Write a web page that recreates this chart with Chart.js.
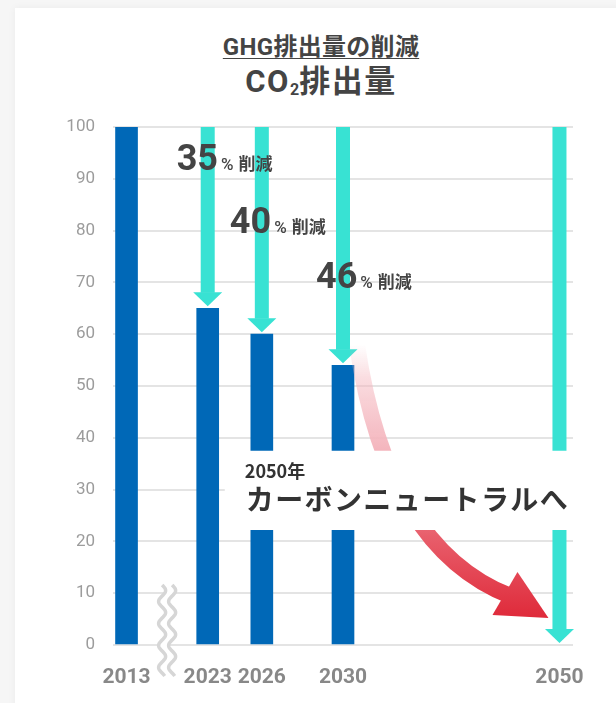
<!DOCTYPE html>
<html lang="ja">
<head>
<meta charset="utf-8">
<script src="https://cdn.jsdelivr.net/npm/chart.js@4"></script>
<style>
  html, body { margin: 0; padding: 0; }
  body { width: 616px; height: 703px; background: #f6f6f6; position: relative; overflow: hidden; font-family: Roboto, "Noto Sans CJK JP", sans-serif; }
  #card { position: absolute; left: 15px; top: 8px; width: 640px; height: 720px; background: #fff; box-shadow: 0 0 8px rgba(0,0,0,0.05); }
  #titles { position: absolute; left: 121px; width: 400px; top: 32px; text-align: center; color: #444; font-weight: bold; }
  #t1 { font-size: 24px; line-height: 31px; letter-spacing: 0.3px; text-decoration: underline; text-underline-offset: 3px; text-decoration-thickness: 1px; }
  #t2 { font-size: 31px; line-height: 38px; letter-spacing: 1.5px; }
  #t2 small { font-size: 16px; letter-spacing: 0; position: relative; top: 3px; }
  canvas { position: absolute; left: 0; top: 0; }
</style>
</head>
<body>
<div id="card"></div>
<div id="titles">
  <div id="t1">GHG排出量の削減</div>
  <div id="t2">CO<small>2</small>排出量</div>
</div>
<canvas id="c" width="616" height="703"></canvas>
<script>
// ---- data ----
const years = ['2013', '2023', '2026', '2030', '2050'];
const emissions = [100, 65, 60, 54, null];          // blue bars
const arrowTargets = [null, 65, 60, 54, 0];         // teal arrows from 100 down to
const reductions = [null, '35', '40', '46', null];  // % 削減 labels per year
const yTickValues = [0, 10, 20, 30, 40, 50, 60, 70, 80, 90, 100];
const noteSmall = '2050年';
const noteBig = 'カーボンニュートラルへ';

// ---- layout (category slot of each year on a 17-slot axis) ----
const slotOf = [0, 3, 5, 8, 16];
const SLOTS = 17;

const labels = Array.from({length: SLOTS}, () => '');
const barData = Array.from({length: SLOTS}, () => null);
years.forEach((y, i) => { labels[slotOf[i]] = y; barData[slotOf[i]] = emissions[i]; });

const TEAL = '#38e2d3';
const BLUE = '#0068b7';

const overlay = {
  id: 'overlay',
  afterDatasetsDraw(chart) {
    const ctx = chart.ctx;
    const xs = chart.scales.x, ys = chart.scales.y;
    const ca = chart.chartArea;
    const X = i => xs.getPixelForValue(slotOf[i]);
    ctx.save();

    // teal arrows
    years.forEach((yr, i) => {
      if (arrowTargets[i] === null) return;
      const x = X(i);
      const top = ys.getPixelForValue(100);
      const tip = ys.getPixelForValue(arrowTargets[i]) - 2;
      const hh = 14, hw = 14.5;
      ctx.fillStyle = TEAL;
      ctx.fillRect(x - 7, top, 14, tip - hh - top + 0.5);
      ctx.beginPath();
      ctx.moveTo(x - hw, tip - hh);
      ctx.lineTo(x + hw, tip - hh);
      ctx.lineTo(x, tip);
      ctx.closePath();
      ctx.fill();
    });

    // % 削減 labels
    const labelVals = [null, 91.7, 79.5, 68.9, null];
    const labelDx = [0, -31, -32, -27, 0];
    years.forEach((yr, i) => {
      if (!reductions[i]) return;
      let x = X(i) + labelDx[i];
      const y = ys.getPixelForValue(labelVals[i]);
      ctx.fillStyle = '#444';
      ctx.textBaseline = 'alphabetic';
      ctx.textAlign = 'left';
      ctx.font = 'bold 36px Roboto';
      ctx.fillText(reductions[i], x, y);
      x += ctx.measureText(reductions[i]).width + 3;
      ctx.font = '500 17px Roboto';
      ctx.fillText('%', x, y);
      x += ctx.measureText('%').width + 5;
      ctx.font = 'bold 17px "Noto Sans CJK JP"';
      ctx.fillText('削減', x, y);
    });

    // red curved arrow from 2030 toward 2050
    const x30 = X(3), x50 = X(4);
    const S = {x: x30 + 14, y: ys.getPixelForValue(58)};
    const T = {x: x50 - 11, y: ys.getPixelForValue(5.2)};
    const P1 = {x: S.x + 30, y: S.y + 203};
    const E = {x: T.x - 42, y: T.y - 24};
    const grad = ctx.createLinearGradient(0, S.y, 0, T.y);
    grad.addColorStop(0, 'rgba(244,180,188,0)');
    grad.addColorStop(0.12, 'rgba(244,180,188,0.45)');
    grad.addColorStop(0.38, 'rgba(244,182,190,1)');
    grad.addColorStop(0.7, 'rgba(232,94,107,1)');
    grad.addColorStop(1, 'rgba(223,42,58,1)');
    ctx.strokeStyle = grad;
    ctx.lineWidth = 16;
    ctx.lineCap = 'butt';
    ctx.beginPath();
    ctx.moveTo(S.x, S.y);
    ctx.quadraticCurveTo(P1.x, P1.y, E.x + 4, E.y + 2);
    ctx.stroke();
    ctx.fillStyle = grad;
    ctx.beginPath();
    ctx.moveTo(T.x, T.y);
    ctx.lineTo(T.x - 56, T.y - 3);
    ctx.lineTo(T.x - 31, T.y - 46);
    ctx.closePath();
    ctx.fill();

    // white band with text
    const bandL = (X(1) + X(2)) / 2 - 10;
    const bTop = ys.getPixelForValue(37.5), bBot = ys.getPixelForValue(22.2);
    ctx.fillStyle = '#fff';
    ctx.fillRect(bandL, bTop, ca.right + 4 - bandL, bBot - bTop);
    ctx.fillStyle = '#333';
    ctx.textAlign = 'left';
    ctx.textBaseline = 'alphabetic';
    ctx.font = 'bold 18px "Noto Sans CJK JP"';
    ctx.fillText(noteSmall, bandL + 20, bTop + 27);
    ctx.font = 'bold 28px "Noto Sans CJK JP"';
    if ('letterSpacing' in ctx) ctx.letterSpacing = '1.4px';
    ctx.fillText(noteBig, bandL + 21, bTop + 59);
    if ('letterSpacing' in ctx) ctx.letterSpacing = '0px';

    // axis break symbol
    const bx = (xs.getPixelForValue(1) + xs.getPixelForValue(2)) / 2;
    const y0 = 585, y1 = 676, amp = 3.5, per = 22;
    const wave = (cx) => {
      const pts = [];
      for (let y = y0; y <= y1; y += 1) pts.push([cx + amp * Math.sin((y - y0) / per * 2 * Math.PI), y]);
      return pts;
    };
    const w1 = wave(bx - 5), w2 = wave(bx + 5);
    ctx.fillStyle = '#fff';
    ctx.beginPath();
    w1.forEach((p, k) => k ? ctx.lineTo(p[0], p[1]) : ctx.moveTo(p[0], p[1]));
    w2.slice().reverse().forEach(p => ctx.lineTo(p[0], p[1]));
    ctx.closePath();
    ctx.fill();
    ctx.strokeStyle = '#d6d6d6';
    ctx.lineWidth = 3.5;
    [w1, w2].forEach(w => {
      ctx.beginPath();
      w.forEach((p, k) => k ? ctx.lineTo(p[0], p[1]) : ctx.moveTo(p[0], p[1]));
      ctx.stroke();
    });
    ctx.restore();
  }
};

new Chart(document.getElementById('c'), {
  type: 'bar',
  data: {
    labels: labels,
    datasets: [{
      data: barData,
      backgroundColor: BLUE,
      barThickness: 22,
      grouped: false
    }]
  },
  options: {
    responsive: false,
    animation: false,
    layout: { padding: { left: 53, right: 43, top: 127, bottom: 0 } },
    plugins: { legend: { display: false }, tooltip: { enabled: false } },
    scales: {
      x: {
        grid: { display: false },
        border: { display: false },
        ticks: { autoSkip: false, maxRotation: 0, color: '#888', padding: 12,
                 font: { family: 'Roboto', size: 21, weight: 'bold' } },
        afterFit(s) { s.height = 58; }
      },
      y: {
        min: 0, max: 100,
        afterBuildTicks(s) { s.ticks = yTickValues.map(v => ({ value: v })); },
        ticks: { color: '#9c9c9c', padding: 18, font: { family: 'Roboto', size: 17 } },
        grid: { color: '#e4e4e4', lineWidth: 2, drawTicks: false },
        border: { display: false },
        afterFit(s) { s.width = 60; }
      }
    }
  },
  plugins: [overlay]
});
</script>
</body>
</html>
